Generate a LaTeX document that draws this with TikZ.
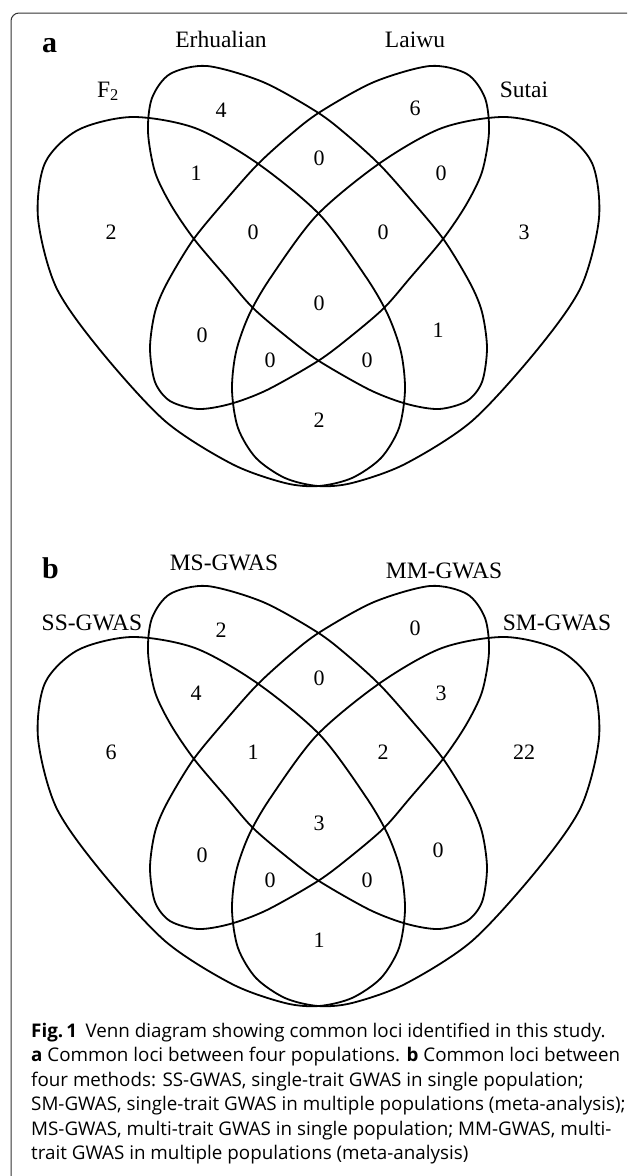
\documentclass[tikz,border=0pt]{standalone}
\usepackage{fontspec}
\setmainfont{Liberation Serif}
\newfontfamily\capfont{Open Sans}
\newcommand\vennshapes{%
  % outer left (A)
  \draw[venn] plot[smooth cycle] coordinates {(132,117) (195,128) (257,163) (320,215) (366,277) (388,315) (401,352) (405,390) (399,428) (381,458) (352,478) (319,486) (285,483) (232,464) (165,421) (100,350) (56,287) (38,218) (45,163) (78,130)};
  % inner right (C)
  \draw[venn] plot[smooth cycle] coordinates {(150,348) (155,312) (167,283) (193,240) (225,201) (257,165) (290,135) (320,112) (374,82) (430,66) (467,74) (485,98) (489,132) (482,172) (466,205) (443,239) (410,278) (384,308) (350,337) (318,361) (267,390) (230,404) (198,409) (170,401) (155,382)};
  \begin{scope}[xshift=637pt, xscale=-1]
  % outer right (D)
  \draw[venn] plot[smooth cycle] coordinates {(132,117) (195,128) (257,163) (320,215) (366,277) (388,315) (401,352) (405,390) (399,428) (381,458) (352,478) (319,486) (285,483) (232,464) (165,421) (100,350) (56,287) (38,218) (45,163) (78,130)};
  % inner left (B)
  \draw[venn] plot[smooth cycle] coordinates {(150,348) (155,312) (167,283) (193,240) (225,201) (257,165) (290,135) (320,112) (374,82) (430,66) (467,74) (485,98) (489,132) (482,172) (466,205) (443,239) (410,278) (384,308) (350,337) (318,361) (267,390) (230,404) (198,409) (170,401) (155,382)};
  \end{scope}}
\begin{document}
\begin{tikzpicture}[x=1pt,y=-1pt,
  venn/.style={draw=black, line width=1.8pt},
  lab/.style={font=\fontsize{23.5}{28}\selectfont, inner sep=0, anchor=base},
  num/.style={font=\fontsize{22}{26}\selectfont, inner sep=0},
  panel/.style={font=\fontsize{30}{34}\selectfont\bfseries, inner sep=0, anchor=base west},
  capline/.style={font=\capfont\fontsize{18.8}{24}\selectfont, inner sep=0, anchor=base west},
  frame/.style={draw=black!80, line width=1pt, rounded corners=8pt}]
\useasboundingbox (0,0) rectangle (627,1176);
\draw[frame] (627,13) -- (11,13) -- (11,1180);

% ---------- panel a ----------
\vennshapes
\node[panel] (pa) at (42,52) {a};
\node[lab] (la1) at (221,47) {Erhualian};
\node[lab] (la2) at (415,47) {Laiwu};
\node[lab] (la3) at (108,97) {F\textsubscript{2}};
\node[lab] (la4) at (524,97) {Sutai};
\node[num] (a1) at (221,110) {4};
\node[num] (a2) at (415,108) {6};
\node[num] (a3) at (196,173) {1};
\node[num] (a4) at (319,158) {0};
\node[num] (a5) at (441,173) {0};
\node[num] (a6) at (111,232) {2};
\node[num] (a7) at (253,232) {0};
\node[num] (a8) at (383,232) {0};
\node[num] (a9) at (524,232) {3};
\node[num] (a10) at (319,303) {0};
\node[num] (a11) at (202,335) {0};
\node[num] (a12) at (438,330) {1};
\node[num] (a13) at (270,360) {0};
\node[num] (a14) at (367,360) {0};
\node[num] (a15) at (319,420) {2};

% ---------- panel b ----------
\begin{scope}[yshift=-520pt]
\vennshapes
\end{scope}
\node[panel] (pb) at (42,578) {b};
\node[lab] (lb1) at (224,570) {MS-GWAS};
\node[lab] (lb2) at (444,578) {MM-GWAS};
\node[lab] (lb3) at (92,630) {SS-GWAS};
\node[lab] (lb4) at (557,630) {SM-GWAS};
\node[num] (b1) at (221,630) {2};
\node[num] (b2) at (415,628) {0};
\node[num] (b3) at (196,693) {4};
\node[num] (b4) at (319,678) {0};
\node[num] (b5) at (441,693) {3};
\node[num] (b6) at (111,752) {6};
\node[num] (b7) at (253,752) {1};
\node[num] (b8) at (383,752) {2};
\node[num] (b9) at (524,752) {22};
\node[num] (b10) at (319,823) {3};
\node[num] (b11) at (202,855) {0};
\node[num] (b12) at (438,850) {0};
\node[num] (b13) at (270,880) {0};
\node[num] (b14) at (367,880) {0};
\node[num] (b15) at (319,940) {1};

% ---------- caption ----------
\node[capline] (c1) at (31,1037) {\textbf{Fig.\,1}\hspace{0.45em}Venn diagram showing common loci identified in this study.};
\node[capline] (c2) at (31,1061.5) {\textbf{a} Common loci between four populations. \textbf{b} Common loci between};
\node[capline] (c3) at (31,1086) {four methods: SS-GWAS, single-trait GWAS in single population;};
\node[capline] (c4) at (31,1110.5) {SM-GWAS, single-trait GWAS in multiple populations (meta-analysis);};
\node[capline] (c5) at (31,1135) {MS-GWAS, multi-trait GWAS in single population; MM-GWAS, multi-};
\node[capline] (c6) at (31,1159.5) {trait GWAS in multiple populations (meta-analysis)};
\end{tikzpicture}
\end{document}
